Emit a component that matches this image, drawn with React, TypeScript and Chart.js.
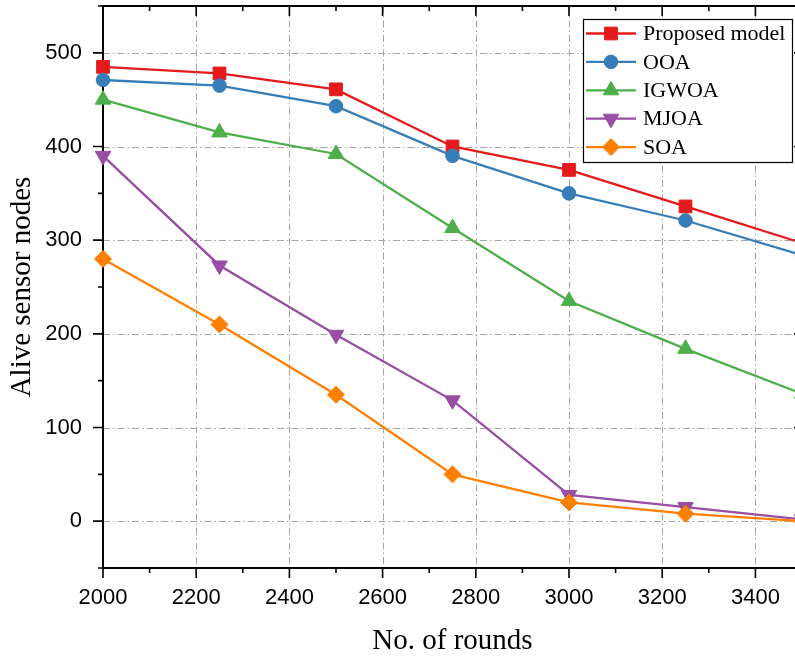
import { useEffect, useRef } from 'react';
import { Chart, registerables } from 'chart.js';
import { drawPoint } from 'chart.js/helpers';

Chart.register(...registerables);

// Simulation rounds on the x axis
const rounds = [2000, 2250, 2500, 2750, 3000, 3250, 3500];

// Alive sensor nodes per protocol
const proposedModel = [485, 478, 461, 400, 375, 336, 297];
const ooa = [471, 465, 443, 390, 350, 321, 284];
const igwoa = [450, 415, 392, 313, 235, 184, 136];
const mjoa = [390, 273, 199, 129, 28, 15, 2];
const soa = [280, 210, 135, 50, 20, 8, 0];

const seriesNames = ['Proposed model', 'OOA', 'IGWOA', 'MJOA', 'SOA'];
const seriesValues = [proposedModel, ooa, igwoa, mjoa, soa];
const seriesColors = ['#e41a1c', '#377eb8', '#4daf4a', '#984ea3', '#ff7f00'];
const seriesMarkers = ['rect', 'circle', 'triangle', 'triangle', 'rectRot'];
const markerRotation = [0, 0, 0, 180, 0];
const markerRadius = [9, 6.8, 9, 9, 8.5];

// Axis ranges and labelled tick values
const xRange = [2000, 3500];
const yRange = [-50, 550];
const xTickLabels = [2000, 2200, 2400, 2600, 2800, 3000, 3200, 3400];
const yTickLabels = [0, 100, 200, 300, 400, 500];

const SANS = '"Liberation Sans", Arial, sans-serif';
const SERIF = '"Liberation Serif", "Times New Roman", serif';

// Dash-dot grid, boxed frame and in/out tick marks (major + minor)
const framePlugin = {
  id: 'originFrame',
  beforeDatasetsDraw(chart: any) {
    const { ctx, chartArea } = chart;
    const { left, right, top, bottom } = chartArea;
    const xs = chart.scales.x;
    const ys = chart.scales.y;
    ctx.save();

    // grid
    ctx.strokeStyle = '#a6a6a6';
    ctx.lineWidth = 1;
    ctx.setLineDash([7, 3, 1.5, 3]);
    for (const v of yTickLabels) {
      const y = Math.round(ys.getPixelForValue(v)) + 0.5;
      ctx.beginPath();
      ctx.moveTo(left, y);
      ctx.lineTo(right, y);
      ctx.stroke();
    }
    for (const v of xTickLabels) {
      if (v === xRange[0]) continue;
      const x = Math.round(xs.getPixelForValue(v)) + 0.5;
      ctx.beginPath();
      ctx.moveTo(x, top);
      ctx.lineTo(x, bottom);
      ctx.stroke();
    }
    ctx.setLineDash([]);

    // ticks
    ctx.strokeStyle = '#000';
    ctx.lineWidth = 1.6;
    for (const t of ys.ticks) {
      const y = ys.getPixelForValue(t.value);
      const major = t.value % 100 === 0;
      const len = major ? 10 : 5;
      ctx.beginPath();
      ctx.moveTo(left - len, y);
      ctx.lineTo(left, y);
      ctx.moveTo(right, y);
      ctx.lineTo(right - (major ? 8 : 4), y);
      ctx.stroke();
    }
    for (const t of xs.ticks) {
      const x = xs.getPixelForValue(t.value);
      const major = t.value % 200 === 0;
      const len = major ? 10 : 5;
      ctx.beginPath();
      ctx.moveTo(x, bottom);
      ctx.lineTo(x, bottom + len);
      ctx.moveTo(x, top);
      ctx.lineTo(x, top + len);
      ctx.stroke();
    }

    // frame
    ctx.lineWidth = 2;
    ctx.beginPath();
    ctx.moveTo(left, top);
    ctx.lineTo(right, top);
    ctx.lineTo(right, bottom);
    ctx.lineTo(left, bottom);
    ctx.closePath();
    ctx.stroke();
    ctx.restore();
  },
};

// Boxed legend with a line segment through each marker
const legendPlugin = {
  id: 'boxLegend',
  afterDraw(chart: any) {
    const { ctx, chartArea } = chart;
    const boxW = 209;
    const boxH = 143;
    const bx = chartArea.right - 10 - boxW;
    const by = chartArea.top + 13;
    ctx.save();
    ctx.fillStyle = '#fff';
    ctx.fillRect(bx, by, boxW, boxH);
    ctx.strokeStyle = '#000';
    ctx.lineWidth = 1.2;
    ctx.strokeRect(bx + 0.5, by + 0.5, boxW, boxH);
    chart.data.datasets.forEach((ds: any, i: number) => {
      const y = by + 14.5 + i * 28.4;
      ctx.strokeStyle = ds.borderColor;
      ctx.lineWidth = 2.3;
      ctx.beginPath();
      ctx.moveTo(bx + 3, y);
      ctx.lineTo(bx + 53, y);
      ctx.stroke();
      ctx.fillStyle = ds.pointBackgroundColor;
      ctx.strokeStyle = ds.pointBorderColor;
      ctx.lineWidth = 1;
      drawPoint(
        ctx,
        { pointStyle: ds.pointStyle, rotation: ds.pointRotation, radius: ds.pointRadius, borderWidth: 1 },
        bx + 28,
        y,
      );
      ctx.fillStyle = '#000';
      ctx.font = `22px ${SERIF}`;
      ctx.textBaseline = 'middle';
      ctx.textAlign = 'left';
      ctx.fillText(ds.label, bx + 60, y + 1);
    });
    ctx.restore();
  },
};

export default function App() {
  const canvasRef = useRef<HTMLCanvasElement | null>(null);

  useEffect(() => {
    const canvas = canvasRef.current;
    if (!canvas) return;
    const datasets = seriesNames.map((name, i) => ({
      label: name,
      data: rounds.map((r, j) => ({ x: r, y: seriesValues[i][j] })),
      borderColor: seriesColors[i],
      backgroundColor: seriesColors[i],
      pointBackgroundColor: seriesColors[i],
      pointBorderColor: seriesColors[i],
      pointBorderWidth: 1,
      pointStyle: seriesMarkers[i],
      pointRotation: markerRotation[i],
      pointRadius: markerRadius[i],
      borderWidth: 2.3,
      tension: 0,
      clip: false as any,
      order: seriesNames.length - i,
    }));

    const chart = new Chart(canvas, {
      type: 'line',
      data: { datasets },
      plugins: [framePlugin, legendPlugin],
      options: {
        animation: false,
        responsive: false,
        devicePixelRatio: 1,
        layout: { autoPadding: false, padding: { left: 0, top: 6, right: 28, bottom: 0 } },
        plugins: { legend: { display: false }, tooltip: { enabled: false } },
        scales: {
          x: {
            type: 'linear',
            min: xRange[0],
            max: xRange[1],
            grid: { display: false, drawTicks: false },
            border: { display: false },
            ticks: {
              stepSize: 100,
              autoSkip: false,
              maxRotation: 0,
              padding: 17,
              color: '#000',
              font: { family: SANS, size: 22 },
              callback: (v: any) => (xTickLabels.includes(Number(v)) ? String(v) : ''),
            },
            title: {
              display: true,
              text: 'No. of rounds',
              color: '#000',
              font: { family: SERIF, size: 29 },
              padding: { top: 0, bottom: 0 },
            },
            afterFit: (s: any) => {
              s.height = 91;
              s.paddingLeft = 0;
              s.paddingRight = 0;
            },
          },
          y: {
            type: 'linear',
            min: yRange[0],
            max: yRange[1],
            grid: { display: false, drawTicks: false },
            border: { display: false },
            ticks: {
              stepSize: 50,
              autoSkip: false,
              padding: 21,
              color: '#000',
              font: { family: SANS, size: 22 },
              callback: (v: any) => (yTickLabels.includes(Number(v)) ? String(v) : ''),
            },
            title: {
              display: true,
              text: 'Alive sensor nodes',
              color: '#000',
              font: { family: SERIF, size: 29 },
              padding: { top: 5, bottom: 0 },
            },
            afterFit: (s: any) => {
              s.width = 103;
              s.paddingTop = 0;
              s.paddingBottom = 0;
            },
          },
        },
      } as any,
    });
    return () => chart.destroy();
  }, []);

  return (
    <div
      style={{
        position: 'fixed',
        left: 0,
        top: 0,
        width: 795,
        height: 659,
        overflow: 'hidden',
        background: '#fff',
      }}
    >
      <canvas ref={canvasRef} width={830} height={659} style={{ display: 'block' }} />
    </div>
  );
}
